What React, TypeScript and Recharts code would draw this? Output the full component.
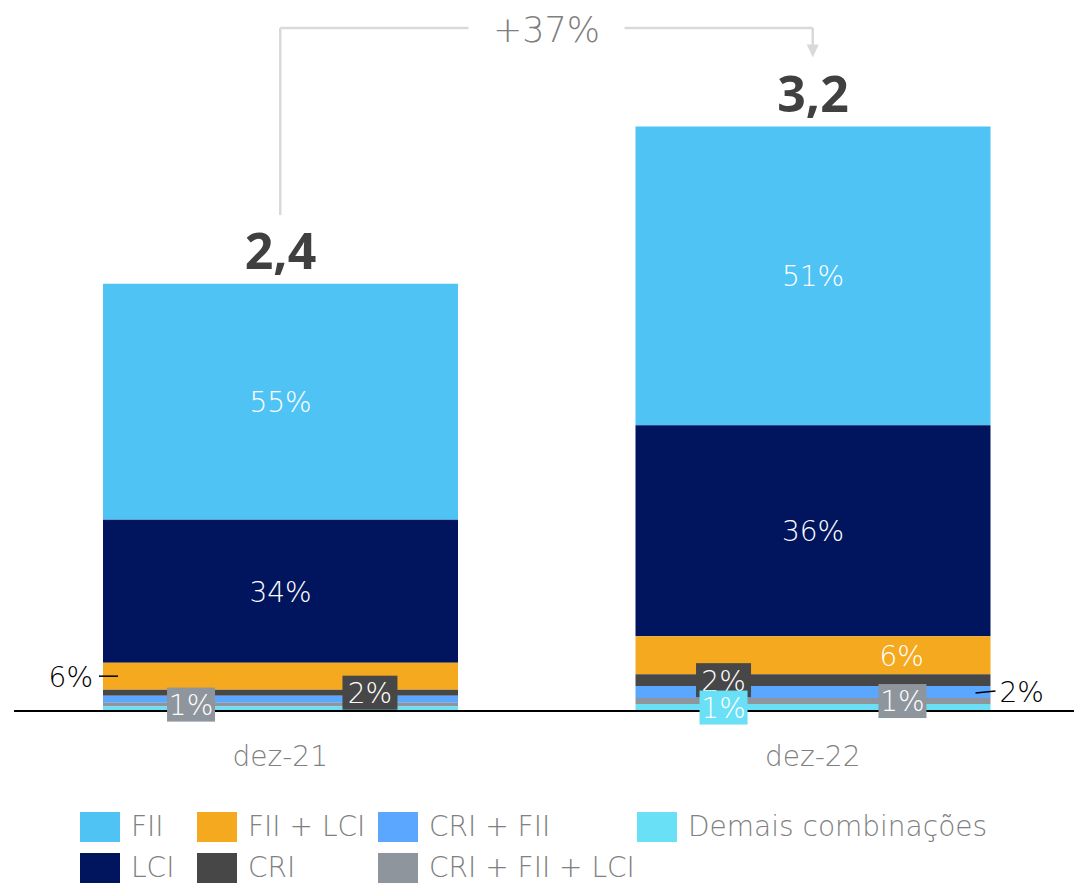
import { BarChart, Bar, XAxis, YAxis, LabelList, ReferenceLine, ReferenceDot } from "recharts";

const periods = ["dez-21", "dez-22"];
const totalLabels = ["2,4", "3,2"];
const growthLabel = "+37%";

// valores em R$ bi por tipo de lastro
const fii = [1.327, 1.681];
const lci = [0.804, 1.186];
const fiiLci = [0.152, 0.214];
const cri = [0.034, 0.067];
const criFii = [0.039, 0.067];
const criFiiLci = [0.022, 0.034];
const demais = [0.025, 0.039];

const fiiPct = ["55%", "51%"];
const lciPct = ["34%", "36%"];
const fiiLciPct = ["6%", "6%"];
const criPct = ["2%", "2%"];
const criFiiPct = ["", "2%"];
const criFiiLciPct = ["1%", "1%"];
const demaisPct = ["", "1%"];

const data = periods.map((period, i) => ({
    period,
    total: totalLabels[i],
    fii: fii[i], fiiPct: fiiPct[i],
    lci: lci[i], lciPct: lciPct[i],
    fiiLci: fiiLci[i], fiiLciPct: fiiLciPct[i],
    cri: cri[i], criPct: criPct[i],
    criFii: criFii[i], criFiiPct: criFiiPct[i],
    criFiiLci: criFiiLci[i], criFiiLciPct: criFiiLciPct[i],
    demais: demais[i], demaisPct: demaisPct[i],
}));

type Place = "center" | "right" | "outLeft" | "outRight" | "boxL" | "boxR" | null;

// ordem do topo para a base (a pilha é invertida com reverseStackOrder)
const series: { key: string; name: string; color: string; place: Place[] }[] = [
    { key: "fii", name: "FII", color: "#4FC3F4", place: ["center", "center"] },
    { key: "lci", name: "LCI", color: "#01155E", place: ["center", "center"] },
    { key: "fiiLci", name: "FII + LCI", color: "#F5A91F", place: ["outLeft", "right"] },
    { key: "cri", name: "CRI", color: "#474747", place: ["boxR", "boxL"] },
    { key: "criFii", name: "CRI + FII", color: "#5BA7FF", place: [null, "outRight"] },
    { key: "criFiiLci", name: "CRI + FII + LCI", color: "#8E959C", place: ["boxL", "boxR"] },
    { key: "demais", name: "Demais combinações", color: "#69E0F5", place: [null, "boxL"] },
];

const legendRows = [
    ["fii", "fiiLci", "criFii", "demais"],
    ["lci", "cri", "criFiiLci"],
];
const legendCols = [80, 197, 378, 637];

const FONT = "'DejaVu Sans', sans-serif";
const BOLD = "'Open Sans', sans-serif";
const LIGHT = 200;

const makeSegmentLabel = (place: Place[], color: string) => (props: any) => {
    const { x, y, width, height, value, index } = props;
    const p = place[index];
    if (!p || !value) return null;
    const cy = y + height / 2;
    const fs = 28;
    const ty = cy + fs * 0.37;
    if (p === "center" || p === "right") {
        const cx = p === "center" ? x + width / 2 : x + width * 0.75;
        return (
            <text x={cx} y={ty} textAnchor="middle" fill="#fff" fontSize={fs} fontWeight={LIGHT} fontFamily={FONT}>
                {value}
            </text>
        );
    }
    if (p === "outLeft") {
        return (
            <g>
                <line x1={x - 4} x2={x + 15} y1={cy} y2={cy} stroke="#000" strokeWidth={1.5} />
                <text x={x - 10} y={ty} textAnchor="end" fill="#000" fontSize={fs} fontWeight={LIGHT} fontFamily={FONT}>
                    {value}
                </text>
            </g>
        );
    }
    if (p === "outRight") {
        return (
            <g>
                <line x1={x + width - 15} x2={x + width + 5} y1={cy + 1} y2={cy - 1} stroke="#000" strokeWidth={1.5} />
                <text x={x + width + 9} y={ty} textAnchor="start" fill="#000" fontSize={fs} fontWeight={LIGHT} fontFamily={FONT}>
                    {value}
                </text>
            </g>
        );
    }
    const cx = p === "boxL" ? x + width * 0.248 : x + width * 0.752;
    const bw = value[0] === "1" ? 48 : 55;
    return (
        <g>
            <rect x={cx - bw / 2} y={cy - 17} width={bw} height={34} fill={color} />
            <text x={cx} y={ty} textAnchor="middle" fill="#fff" fontSize={fs} fontWeight={LIGHT} fontFamily={FONT}>
                {value}
            </text>
        </g>
    );
};

const TotalLabel = (props: any) => {
    const { x, y, width, value } = props;
    return (
        <text x={x + width / 2} y={y - 15} textAnchor="middle" fill="#404040" fontSize={50} fontWeight={700} fontFamily={BOLD}>
            {value}
        </text>
    );
};

const GrowthLabel = (props: any) => {
    const vb = props.viewBox || {};
    const cx = vb.x + vb.width / 2;
    const cy = vb.y + (vb.height || 0) / 2;
    return (
        <g>
            <rect x={cx - 78} y={cy - 20} width={156} height={40} fill="#fff" />
            <text x={cx} y={cy + 14} textAnchor="middle" fill="#7F7F7F" fontSize={35} fontWeight={LIGHT} fontFamily={FONT}>
                {growthLabel}
            </text>
        </g>
    );
};

const PeriodTick = (props: any) => {
    const { x, y, payload } = props;
    return (
        <text x={x} y={y + 47} textAnchor="middle" fill="#7F7F7F" fontSize={28} fontWeight={LIGHT} fontFamily={FONT}>
            {payload.value}
        </text>
    );
};

const Arrow = (props: any) => {
    const { cx, cy } = props;
    return <path d={`M${cx - 6},${cy - 7} L${cx + 6},${cy - 7} L${cx},${cy + 6} Z`} fill="#D9D9D9" />;
};

export default function App() {
    const byKey = Object.fromEntries(series.map((s) => [s.key, s]));
    return (
        <div style={{ position: "absolute", left: 0, top: 0, width: 1074, height: 883, overflow: "hidden", background: "#fff" }}>
            <BarChart
                width={1080}
                height={883}
                data={data}
                margin={{ top: 0, right: 1, bottom: 112, left: 14 }}
                reverseStackOrder
            >
                <XAxis
                    dataKey="period"
                    height={60}
                    tickLine={false}
                    axisLine={{ stroke: "#000", strokeWidth: 2 }}
                    tick={<PeriodTick />}
                />
                <YAxis hide type="number" domain={[0, 4]} />
                {series.map((s) => (
                    <Bar key={s.key} dataKey={s.key} name={s.name} stackId="a" fill={s.color} barSize={355} isAnimationActive={false}>
                        <LabelList dataKey={`${s.key}Pct`} content={makeSegmentLabel(s.place, s.color)} />
                        {s.key === "fii" && <LabelList dataKey="total" content={<TotalLabel />} />}
                    </Bar>
                ))}
                <ReferenceLine
                    segment={[{ x: "dez-21", y: 2.79 }, { x: "dez-21", y: 3.843 }]}
                    stroke="#D9D9D9"
                    strokeWidth={2.5}
                />
                <ReferenceLine
                    segment={[{ x: "dez-21", y: 3.843 }, { x: "dez-22", y: 3.843 }]}
                    stroke="#D9D9D9"
                    strokeWidth={2.5}
                    label={{ content: (p: any) => <GrowthLabel {...p} />, position: "center" }}
                />
                <ReferenceLine
                    segment={[{ x: "dez-22", y: 3.843 }, { x: "dez-22", y: 3.74 }]}
                    stroke="#D9D9D9"
                    strokeWidth={2.5}
                />
                <ReferenceDot x="dez-22" y={3.71} shape={<Arrow />} />
            </BarChart>
            {legendRows.map((row, r) =>
                row.map((k, c) => (
                    <div
                        key={k}
                        style={{
                            position: "absolute",
                            left: legendCols[c],
                            top: 812 + r * 41,
                            height: 30,
                            display: "flex",
                            alignItems: "center",
                            fontFamily: FONT,
                            fontSize: 28,
                            lineHeight: 1,
                            color: "#808080",
                            whiteSpace: "nowrap",
                        }}
                    >
                        <span style={{ display: "inline-block", width: 40, height: 30, background: byKey[k].color, marginRight: 11 }} />
                        <span style={{ fontWeight: LIGHT }}>{byKey[k].name}</span>
                    </div>
                ))
            )}
        </div>
    );
}
